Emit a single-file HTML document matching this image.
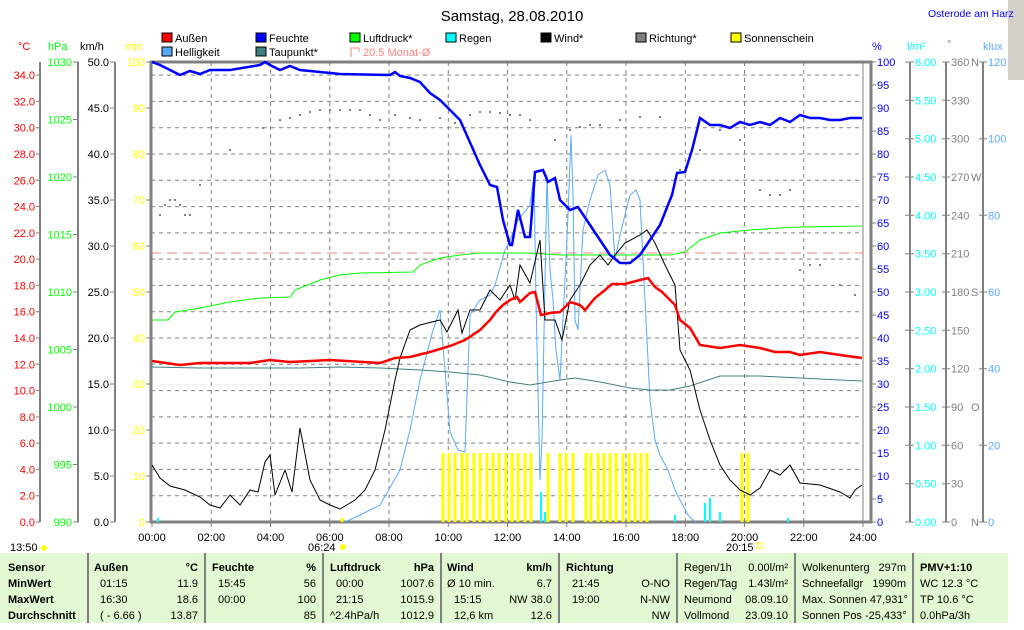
<!DOCTYPE html>
<html><head><meta charset="utf-8"><style>
body{margin:0;background:#fff;width:1024px;height:625px;overflow:hidden;font-family:"Liberation Sans",sans-serif}
svg text{font-family:"Liberation Sans",sans-serif;font-size:11px}
</style></head><body>
<svg width="1024" height="625" xmlns="http://www.w3.org/2000/svg">
<rect x="1008" y="0" width="16" height="80" fill="#d4d0c8"/>
<text x="512" y="21" text-anchor="middle" style="font-size:15px">Samstag, 28.08.2010</text>
<text x="928" y="17" fill="#0000ff" style="font-size:10.5px">Osterode am Harz</text>
<g>
<rect x="162" y="33" width="10" height="9" fill="#f00" stroke="#000"/><text x="175" y="42">Außen</text>
<rect x="256" y="33" width="10" height="9" fill="#00f" stroke="#000"/><text x="269" y="42">Feuchte</text>
<rect x="350" y="33" width="10" height="9" fill="#0f0" stroke="#000"/><text x="363" y="42">Luftdruck*</text>
<rect x="446" y="33" width="10" height="9" fill="#0ff" stroke="#000"/><text x="459" y="42">Regen</text>
<rect x="541" y="33" width="10" height="9" fill="#000" stroke="#000"/><text x="554" y="42">Wind*</text>
<rect x="636" y="33" width="10" height="9" fill="#808080" stroke="#000"/><text x="649" y="42">Richtung*</text>
<rect x="731" y="33" width="10" height="9" fill="#ff0" stroke="#000"/><text x="744" y="42">Sonnenschein</text>
<rect x="162" y="47" width="10" height="9" fill="#59aaff" stroke="#000"/><text x="175" y="56">Helligkeit</text>
<rect x="256" y="47" width="10" height="9" fill="#408080" stroke="#000"/><text x="269" y="56">Taupunkt*</text>
<path d="M351 57V48h8v4" fill="none" stroke="#ff8080"/><text x="363" y="56" fill="#ff8080">20.5 Monat-Ø</text>
</g>
<text x="18" y="50" fill="#f00">°C</text>
<text x="48" y="50" fill="#0f0">hPa</text>
<text x="80" y="50">km/h</text>
<text x="125" y="50" fill="#ff0">min</text>
<text x="872" y="50" fill="#00f">%</text>
<text x="907" y="50" fill="#0ff">l/m²</text>
<text x="947" y="48" fill="#808080">°</text>
<text x="983" y="50" fill="#59aaff">klux</text>

<!-- axis lines -->
<g stroke="#808080" stroke-width="2" fill="none">
<path d="M40 62V522M78 62V522M115 62V522M910 62V522M946 62V522M983 62V522"/>
</g>
<g stroke="#808080" stroke-width="1" fill="none">
<path d="M36 522h4M36 495.7h4M36 469.4h4M36 443.1h4M36 416.9h4M36 390.6h4M36 364.3h4M36 338h4M36 311.7h4M36 285.4h4M36 259.1h4M36 232.9h4M36 206.6h4M36 180.3h4M36 154h4M36 127.7h4M36 101.4h4M36 75.1h4"/>
<path d="M73 522h5M73 464.5h5M73 407h5M73 349.5h5M73 292h5M73 234.5h5M73 177h5M73 119.5h5M73 62h5"/>
<path d="M110 522h5M110 476h5M110 430h5M110 384h5M110 338h5M110 292h5M110 246h5M110 200h5M110 154h5M110 108h5M110 62h5"/>
<path d="M146 522h5M146 476h5M146 430h5M146 384h5M146 338h5M146 292h5M146 246h5M146 200h5M146 154h5M146 108h5M146 62h5"/>
<path d="M871 522h5M871 499h5M871 476h5M871 453h5M871 430h5M871 407h5M871 384h5M871 361h5M871 338h5M871 315h5M871 292h5M871 269h5M871 246h5M871 223h5M871 200h5M871 177h5M871 154h5M871 131h5M871 108h5M871 85h5M871 62h5"/>
<path d="M905 522h9M905 483.7h9M905 445.3h9M905 407h9M905 368.7h9M905 330.3h9M905 292h9M905 253.7h9M905 215.3h9M905 177h9M905 138.7h9M905 100.3h9M905 62h9"/>
<path d="M942 522h8M942 483.7h8M942 445.3h8M942 407h8M942 368.7h8M942 330.3h8M942 292h8M942 253.7h8M942 215.3h8M942 177h8M942 138.7h8M942 100.3h8M942 62h8"/>
<path d="M979 522h8M979 445.3h8M979 368.7h8M979 292h8M979 215.3h8M979 138.7h8M979 62h8"/>
<path d="M152 522v5M211.3 522v5M270.5 522v5M329.8 522v5M389 522v5M448.3 522v5M507.5 522v5M566.8 522v5M626 522v5M685.3 522v5M744.5 522v5M803.8 522v5M863 522v5"/>
</g>
<g fill="#f00" text-anchor="end">
<text x="35" y="526">0.0</text><text x="35" y="499.7">2.0</text><text x="35" y="473.4">4.0</text><text x="35" y="447.1">6.0</text><text x="35" y="420.9">8.0</text><text x="35" y="394.6">10.0</text><text x="35" y="368.3">12.0</text><text x="35" y="342">14.0</text><text x="35" y="315.7">16.0</text><text x="35" y="289.4">18.0</text><text x="35" y="263.1">20.0</text><text x="35" y="236.9">22.0</text><text x="35" y="210.6">24.0</text><text x="35" y="184.3">26.0</text><text x="35" y="158">28.0</text><text x="35" y="131.7">30.0</text><text x="35" y="105.4">32.0</text><text x="35" y="79.1">34.0</text>
</g>
<g fill="#0f0" text-anchor="end">
<text x="72" y="526">990</text><text x="72" y="468.5">995</text><text x="72" y="411">1000</text><text x="72" y="353.5">1005</text><text x="72" y="296">1010</text><text x="72" y="238.5">1015</text><text x="72" y="181">1020</text><text x="72" y="123.5">1025</text><text x="72" y="66">1030</text>
</g>
<g fill="#000" text-anchor="end">
<text x="109" y="526">0.0</text><text x="109" y="480">5.0</text><text x="109" y="434">10.0</text><text x="109" y="388">15.0</text><text x="109" y="342">20.0</text><text x="109" y="296">25.0</text><text x="109" y="250">30.0</text><text x="109" y="204">35.0</text><text x="109" y="158">40.0</text><text x="109" y="112">45.0</text><text x="109" y="66">50.0</text>
</g>
<g fill="#ff0" text-anchor="end">
<text x="145" y="526">0</text><text x="145" y="480">10</text><text x="145" y="434">20</text><text x="145" y="388">30</text><text x="145" y="342">40</text><text x="145" y="296">50</text><text x="145" y="250">60</text><text x="145" y="204">70</text><text x="145" y="158">80</text><text x="145" y="112">90</text><text x="145" y="66">100</text>
</g>
<g fill="#00f">
<text x="877" y="526">0</text><text x="877" y="503">5</text><text x="877" y="480">10</text><text x="877" y="457">15</text><text x="877" y="434">20</text><text x="877" y="411">25</text><text x="877" y="388">30</text><text x="877" y="365">35</text><text x="877" y="342">40</text><text x="877" y="319">45</text><text x="877" y="296">50</text><text x="877" y="273">55</text><text x="877" y="250">60</text><text x="877" y="227">65</text><text x="877" y="204">70</text><text x="877" y="181">75</text><text x="877" y="158">80</text><text x="877" y="135">85</text><text x="877" y="112">90</text><text x="877" y="89">95</text><text x="877" y="66">100</text>
</g>
<g fill="#0ff">
<text x="915" y="526">0.00</text><text x="915" y="487.7">0.50</text><text x="915" y="449.3">1.00</text><text x="915" y="411">1.50</text><text x="915" y="372.7">2.00</text><text x="915" y="334.3">2.50</text><text x="915" y="296">3.00</text><text x="915" y="257.7">3.50</text><text x="915" y="219.3">4.00</text><text x="915" y="181">4.50</text><text x="915" y="142.7">5.00</text><text x="915" y="104.3">5.50</text><text x="915" y="66">6.00</text>
</g>
<g fill="#808080">
<text x="951" y="526">0</text><text x="951" y="487.7">30</text><text x="951" y="449.3">60</text><text x="951" y="411">90</text><text x="951" y="372.7">120</text><text x="951" y="334.3">150</text><text x="951" y="296">180</text><text x="951" y="257.7">210</text><text x="951" y="219.3">240</text><text x="951" y="181">270</text><text x="951" y="142.7">300</text><text x="951" y="104.3">330</text><text x="951" y="66">360</text>
<text x="971" y="526">N</text><text x="971" y="411">O</text><text x="971" y="296">S</text><text x="971" y="181">W</text><text x="971" y="66">N</text>
</g>
<g fill="#59aaff">
<text x="988" y="526">0</text><text x="988" y="449.3">20</text><text x="988" y="372.7">40</text><text x="988" y="296">60</text><text x="988" y="219.3">80</text><text x="988" y="142.7">100</text><text x="988" y="66">120</text>
</g>
<g text-anchor="middle">
<text x="152" y="541">00:00</text><text x="211.3" y="541">02:00</text><text x="270.5" y="541">04:00</text><text x="329.8" y="541">06:00</text><text x="389" y="541">08:00</text><text x="448.3" y="541">10:00</text><text x="507.5" y="541">12:00</text><text x="566.8" y="541">14:00</text><text x="626" y="541">16:00</text><text x="685.3" y="541">18:00</text><text x="744.5" y="541">20:00</text><text x="803.8" y="541">22:00</text><text x="863" y="541">24:00</text>
</g>

<!-- grid -->
<path stroke="#808080" stroke-dasharray="4,4" fill="none" d="M151 495.7H863M151 469.4H863M151 443.1H863M151 416.9H863M151 390.6H863M151 364.3H863M151 338H863M151 311.7H863M151 285.4H863M151 259.1H863M151 232.9H863M151 206.6H863M151 180.3H863M151 154H863M151 127.7H863M151 101.4H863M151 75.1H863M211.3 62V522M270.5 62V522M329.8 62V522M389 62V522M448.3 62V522M507.5 62V522M566.8 62V522M626 62V522M685.3 62V522M744.5 62V522M803.8 62V522"/>
<rect x="151" y="62" width="720" height="460" fill="none" stroke="#808080" stroke-width="3"/>
<line x1="863" y1="62" x2="863" y2="522" stroke="#808080"/>
<line x1="151" y1="253" x2="863" y2="253" stroke="#ff8080" stroke-dasharray="10,6"/>

<!-- sunshine -->
<path stroke="#ff0" stroke-width="3" d="M443 453V522M449 453V522M455 453V522M462 453V522M467 453V522M474 453V522M480 453V522M487 453V522M493 453V522M499 453V522M506 453V522M512 453V522M518 453V522M525 453V522M531 453V522M548 453V522M560 453V522M566 453V522M573 453V522M586 453V522M591 453V522M598 453V522M604 453V522M610 453V522M616 453V522M623 453V522M629 453V522M635 453V522M641 453V522M647 453V522M742 453V522M748 453V522M342 518V522"/>
<path stroke="#0ff" stroke-width="2" d="M158 518V522M541 492V522M545 512V522M675 515V522M705 503V522M710 498V522M720 512V522M788 518V522"/>
<path fill="#808080" d="M159 214h2v2h-2zM164 204h2v2h-2zM169 199h2v2h-2zM174 199h2v2h-2zM179 204h2v2h-2zM184 214h2v2h-2zM189 214h2v2h-2zM199 184h2v2h-2zM229 149h2v2h-2zM262 127h2v2h-2zM279 119h2v2h-2zM289 117h2v2h-2zM299 114h2v2h-2zM309 111h2v2h-2zM319 109h2v2h-2zM329 109h2v2h-2zM339 109h2v2h-2zM349 109h2v2h-2zM359 109h2v2h-2zM369 114h2v2h-2zM379 119h2v2h-2zM394 114h2v2h-2zM409 117h2v2h-2zM419 119h2v2h-2zM439 117h2v2h-2zM454 122h2v2h-2zM469 114h2v2h-2zM479 111h2v2h-2zM489 111h2v2h-2zM499 112h2v2h-2zM509 114h2v2h-2zM519 114h2v2h-2zM529 119h2v2h-2zM554 139h2v2h-2zM569 129h2v2h-2zM579 126h2v2h-2zM589 124h2v2h-2zM599 124h2v2h-2zM619 119h2v2h-2zM639 116h2v2h-2zM659 116h2v2h-2zM679 169h2v2h-2zM699 149h2v2h-2zM719 129h2v2h-2zM739 139h2v2h-2zM759 189h2v2h-2zM769 194h2v2h-2zM779 194h2v2h-2zM789 189h2v2h-2zM799 269h2v2h-2zM809 264h2v2h-2zM819 264h2v2h-2zM839 284h2v2h-2zM854 294h2v2h-2z"/>
<g fill="none">
<polyline stroke="#59aaff" stroke-width="1" points="345,522 360,515 380,505 400,470 410,430 420,380 433,330 440,310 445,370 450,432 458,450 465,452 470,315 480,300 490,295 495,285 505,250 510,240 518,220 530,205 534,175 536,300 540,480 542,440 547,175 550,270 553,300 556,350 560,380 565,280 568,215 571,135 573,195 575,320 578,330 583,230 590,200 598,175 605,170 610,185 615,260 620,235 630,195 636,190 640,200 645,300 650,400 655,440 660,455 668,470 675,490 680,500 688,515 695,522"/>
<polyline stroke="#0f0" stroke-width="1" points="152,320 168,320 175,312 200,308 230,302 260,298 290,297 295,290 320,280 340,275 360,273 413,272 420,265 440,258 460,255 480,253 530,253 560,255 670,255 685,252 700,240 720,233 750,230 780,228 800,227 862,226"/>
<polyline stroke="#408080" stroke-width="1" points="152,367 200,368 300,368 340,367 380,368 420,370 450,372 480,375 510,382 530,385 560,380 575,378 600,382 630,388 650,390 670,390 690,386 720,376 760,376 800,378 840,380 862,381"/>
<polyline stroke="#000" stroke-width="1" points="152,465 160,478 170,486 185,490 200,497 210,505 220,508 230,495 240,505 250,490 258,492 265,462 270,455 275,495 285,470 292,492 300,428 310,480 320,500 330,505 340,509 355,500 365,490 375,470 385,430 395,380 400,358 410,330 420,325 440,320 447,332 458,310 462,333 470,310 480,310 490,290 500,300 510,285 515,300 520,265 530,283 540,240 545,320 555,320 562,340 570,300 580,285 590,265 600,255 608,265 615,255 625,243 640,235 647,230 655,243 665,265 675,285 680,350 690,370 700,410 710,440 720,465 730,480 740,490 750,495 760,488 770,470 780,475 790,465 800,483 820,485 840,492 850,498 855,490 862,485"/>
<polyline stroke="#f00" stroke-width="2.5" points="152,361 180,365 200,363 250,363 270,360 290,362 330,360 380,363 395,358 410,357 430,352 450,346 465,340 480,330 490,320 496,312 503,305 510,300 517,297 520,302 530,293 535,292 541,315 550,313 560,312 570,302 580,305 585,310 595,298 605,290 612,284 625,284 640,280 648,278 655,287 662,292 675,305 680,320 690,328 700,345 720,348 740,345 760,348 775,352 790,352 800,355 820,352 840,355 862,358"/>
<polyline stroke="#00f" stroke-width="2.5" points="152,62 160,65 170,70 180,75 190,71 200,74 210,70 230,70 260,65 265,62 270,65 280,70 290,66 300,70 320,72 340,74 390,75 395,72 400,76 410,78 420,82 430,93 440,100 460,120 480,165 490,185 497,187 503,220 510,245 512,245 518,210 525,237 530,237 535,172 543,170 548,182 555,178 560,200 570,210 578,207 590,225 600,240 610,255 620,263 630,263 640,255 660,225 672,195 677,173 685,172 692,150 700,118 710,125 720,125 730,128 740,122 750,125 760,122 770,125 780,118 790,122 800,115 810,118 820,118 830,120 840,120 850,118 862,118"/>
</g>

<!-- table -->
<rect x="0" y="553" width="1008" height="70" fill="#e2f8d2"/>
<path stroke="#808080" stroke-width="2" d="M88 553V623M205 553V623M323 553V623M441 553V623M559 553V623M677 553V623M795 553V623M913 553V623"/>
<g>
<g font-weight="bold"><text x="8" y="571">Sensor</text><text x="8" y="587">MinWert</text><text x="8" y="603">MaxWert</text><text x="8" y="619">Durchschnitt</text>
<text x="94" y="571">Außen</text><text x="212" y="571">Feuchte</text><text x="330" y="571">Luftdruck</text><text x="447" y="571">Wind</text><text x="566" y="571">Richtung</text><text x="920" y="571">PMV+1:10</text>
<text x="198" y="571" text-anchor="end">°C</text><text x="316" y="571" text-anchor="end">%</text><text x="434" y="571" text-anchor="end">hPa</text><text x="552" y="571" text-anchor="end">km/h</text></g>
<text x="100" y="587">01:15</text><text x="198" y="587" text-anchor="end">11.9</text>
<text x="100" y="603">16:30</text><text x="198" y="603" text-anchor="end">18.6</text>
<text x="100" y="619">( - 6.66 )</text><text x="198" y="619" text-anchor="end">13.87</text>
<text x="218" y="587">15:45</text><text x="316" y="587" text-anchor="end">56</text>
<text x="218" y="603">00:00</text><text x="316" y="603" text-anchor="end">100</text>
<text x="316" y="619" text-anchor="end">85</text>
<text x="336" y="587">00:00</text><text x="434" y="587" text-anchor="end">1007.6</text>
<text x="336" y="603">21:15</text><text x="434" y="603" text-anchor="end">1015.9</text>
<text x="330" y="619">^2.4hPa/h</text><text x="434" y="619" text-anchor="end">1012.9</text>
<text x="447" y="587">Ø 10 min.</text><text x="552" y="587" text-anchor="end">6.7</text>
<text x="454" y="603">15:15</text><text x="552" y="603" text-anchor="end">NW 38.0</text>
<text x="454" y="619">12,6 km</text><text x="552" y="619" text-anchor="end">12.6</text>
<text x="572" y="587">21:45</text><text x="670" y="587" text-anchor="end">O-NO</text>
<text x="572" y="603">19:00</text><text x="670" y="603" text-anchor="end">N-NW</text>
<text x="670" y="619" text-anchor="end">NW</text>
<text x="684" y="571">Regen/1h</text><text x="788" y="571" text-anchor="end">0.00l/m²</text>
<text x="684" y="587">Regen/Tag</text><text x="788" y="587" text-anchor="end">1.43l/m²</text>
<text x="684" y="603">Neumond</text><text x="788" y="603" text-anchor="end">08.09.10</text>
<text x="684" y="619">Vollmond</text><text x="788" y="619" text-anchor="end">23.09.10</text>
<text x="802" y="571">Wolkenunterg</text><text x="906" y="571" text-anchor="end">297m</text>
<text x="802" y="587">Schneefallgr</text><text x="906" y="587" text-anchor="end">1990m</text>
<text x="802" y="603">Max. Sonnen 47,931°</text>
<text x="802" y="619">Sonnen Pos -25,433°</text>
<text x="920" y="587">WC 12.3 °C</text><text x="920" y="603">TP 10.6 °C</text><text x="920" y="619">0.0hPa/3h</text>
</g>
<text x="10" y="551">13:50</text><circle cx="44" cy="548" r="3" fill="#ff0"/>
<text x="308" y="551">06:24</text><circle cx="343" cy="547" r="3" fill="#ff0"/>
<text x="726" y="551">20:15</text><rect x="757" y="543" width="5" height="5" fill="none" stroke="#ff0"/>
</svg>
</body></html>
